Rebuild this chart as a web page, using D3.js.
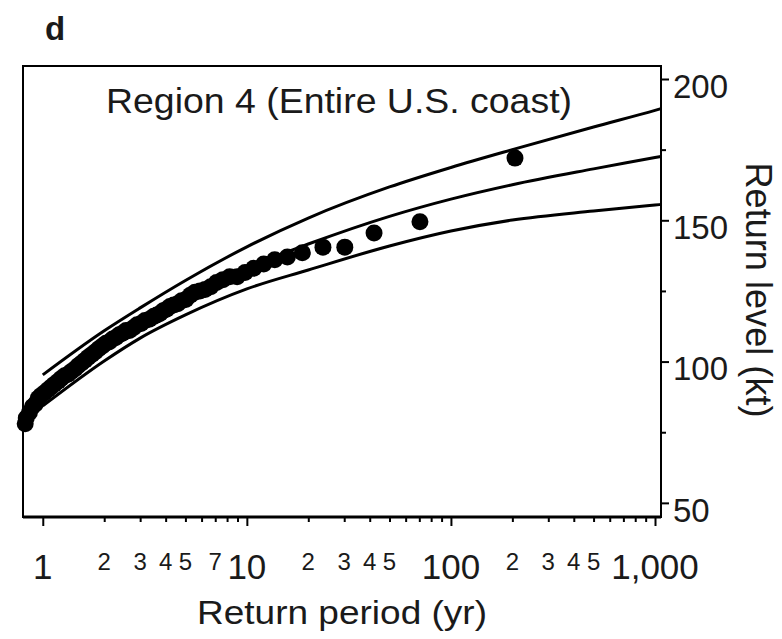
<!DOCTYPE html>
<html>
<head>
<meta charset="utf-8">
<script src="https://cdn.jsdelivr.net/npm/d3@7"></script>
<style>
	body { margin: 0; background: #fff; }
	text { font-family: "Liberation Sans", Arial, Helvetica, sans-serif; fill: #1a1a1a; }
</style>
</head>
<body>
<div id="chart"></div>
<script>

var returnPeriods = [206, 70.5, 42, 30.2, 23.6, 18.7, 15.8, 13.7, 12.1, 10.8, 9.8, 8.96, 8.24, 7.63, 7.10, 6.65, 6.24, 5.89, 5.57, 5.28,
	5.02, 4.79, 4.58, 4.38, 4.2, 4.04, 3.89, 3.75, 3.62, 3.5, 3.33, 3.17, 3.03, 2.9, 2.78, 2.66, 2.56, 2.46, 2.37, 2.28,
	2.2, 2.12, 2.04, 1.96, 1.88, 1.81, 1.74, 1.67, 1.61, 1.55, 1.49, 1.44, 1.38, 1.33, 1.28, 1.23, 1.19, 1.14, 1.10, 1.06,
	1.02, 0.98, 0.95, 0.92, 0.89, 0.86, 0.83, 0.82];
var returnLevels = [172, 149.5, 145.5, 140.5, 140.5, 138.5, 137, 136, 134.5, 133, 131.5, 130, 130, 129, 128, 126.5, 125.5, 125, 124.5, 123.5,
	122, 121.5, 120.5, 120, 119.5, 118.5, 118, 117, 116.5, 116, 115, 114.5, 113.5, 113, 112, 111, 111, 110, 109.5, 108.5,
	108, 107, 106.5, 105.5, 104.5, 103.5, 102.5, 101.5, 100.5, 99.5, 98.5, 97.5, 96.5, 95.5, 95, 94, 93, 92, 91, 90,
	89, 88, 87, 85, 84, 82, 80, 78];

// Fitted return level curve with upper / lower limits
var curvePeriods = [1, 2, 3, 5, 10, 20, 50, 100, 200, 500, 1000, 1070];
var upperLevels = [95.3, 110.9, 119, 128.7, 140.6, 150.8, 161.8, 168.7, 175, 183, 188.9, 189.5];
var fitLevels = [89.8, 105.6, 113.7, 122.6, 133.2, 141.6, 151.4, 157.5, 162.6, 168.2, 172.2, 172.6];
var lowerLevels = [84.3, 100.2, 108.3, 116.5, 125.7, 132.4, 140.9, 146.2, 150.1, 153.3, 155.4, 155.6];

// Axis ticks
var majorPeriods = [1, 10, 100, 1000];
var minorPeriods = [2, 3, 4, 5, 6, 7, 8, 9, 20, 30, 40, 50, 60, 70, 80, 90, 200, 300, 400, 500, 600, 700, 800, 900];
var minorLabels = [2, 3, 4, 5, 7, 20, 30, 40, 50, 200, 300, 400, 500];
var levelTicks = [50, 100, 150, 200];
var levelMinor = [75, 125, 175];

var width = 782, height = 639;
var plotLeft = 23, plotRight = 661, plotTop = 66, plotBottom = 517;

var svg = d3.select("#chart").append("svg")
	.attr("width", width)
	.attr("height", height);

var x = d3.scaleLog().domain([0.8, 1070]).range([plotLeft, plotRight]);
var y = d3.scaleLinear().domain([45, 204.6]).range([plotBottom, plotTop]);

// panel letter
svg.append("text")
	.attr("x", 45).attr("y", 40)
	.attr("font-size", "33px")
	.attr("font-weight", "bold")
	.text("d");

// curves
var line = d3.line()
	.x(function(d) { return x(d[0]); })
	.y(function(d) { return y(d[1]); })
	.curve(d3.curveMonotoneX);

[upperLevels, fitLevels, lowerLevels].forEach(function(levels) {
	svg.append("path")
		.datum(curvePeriods.map(function(t, i) { return [t, levels[i]]; }))
		.attr("fill", "none")
		.attr("stroke", "#000")
		.attr("stroke-width", 3)
		.attr("d", line);
});

// observed points
svg.selectAll("circle.obs")
	.data(returnPeriods.map(function(t, i) { return [t, returnLevels[i]]; }))
	.enter()
	.append("circle")
	.attr("class", "obs")
	.attr("cx", function(d) { return x(d[0]); })
	.attr("cy", function(d) { return y(d[1]); })
	.attr("r", 8.5)
	.attr("fill", "#000");

// frame
svg.append("rect")
	.attr("x", plotLeft).attr("y", plotTop)
	.attr("width", plotRight - plotLeft).attr("height", plotBottom - plotTop)
	.attr("fill", "none")
	.attr("stroke", "#000")
	.attr("stroke-width", 2);
svg.append("line")
	.attr("x1", plotLeft).attr("x2", plotRight)
	.attr("y1", plotBottom).attr("y2", plotBottom)
	.attr("stroke", "#000")
	.attr("stroke-width", 3);

// bottom axis
var gx = svg.append("g").attr("transform", "translate(0," + plotBottom + ")");
gx.append("g").call(d3.axisBottom(x).tickValues(minorPeriods).tickSize(5).tickFormat(""));
gx.append("g").call(d3.axisBottom(x).tickValues(majorPeriods).tickSize(9).tickFormat(""));
gx.selectAll(".domain").remove();
gx.selectAll("line").attr("stroke", "#000").attr("stroke-width", 2);

gx.selectAll("text.major")
	.data(majorPeriods)
	.enter()
	.append("text")
	.attr("class", "major")
	.attr("x", function(d) { return x(d); })
	.attr("y", 62)
	.attr("text-anchor", "middle")
	.attr("font-size", "35px")
	.text(d3.format(","));

gx.selectAll("text.minor")
	.data(minorLabels)
	.enter()
	.append("text")
	.attr("class", "minor")
	.attr("x", function(d) { return x(d); })
	.attr("y", 53)
	.attr("text-anchor", "middle")
	.attr("font-size", "24px")
	.text(function(d) { return String(d).charAt(0); });

svg.append("text")
	.attr("x", 342).attr("y", 624)
	.attr("text-anchor", "middle")
	.attr("font-size", "34px")
	.attr("textLength", 290)
	.attr("lengthAdjust", "spacingAndGlyphs")
	.text("Return period (yr)");

// right axis
var gy = svg.append("g").attr("transform", "translate(" + plotRight + ",0)");
gy.append("g").call(d3.axisRight(y).tickValues(levelTicks).tickSize(8).tickPadding(4));
gy.append("g").call(d3.axisRight(y).tickValues(levelMinor).tickSize(5).tickFormat(""));
gy.selectAll(".domain").remove();
gy.selectAll("line").attr("stroke", "#000").attr("stroke-width", 2);
gy.selectAll("text")
	.attr("font-family", null)
	.attr("font-size", "33px")
	.attr("fill", "#1a1a1a")
	.attr("dy", "0.55em");

svg.append("text")
	.attr("transform", "translate(746,290) rotate(90)")
	.attr("text-anchor", "middle")
	.attr("font-size", "36px")
	.attr("textLength", 255)
	.attr("lengthAdjust", "spacingAndGlyphs")
	.text("Return level (kt)");

// region title
svg.append("text")
	.attr("x", 106).attr("y", 113)
	.attr("font-size", "35px")
	.attr("textLength", 466)
	.attr("lengthAdjust", "spacingAndGlyphs")
	.text("Region 4 (Entire U.S. coast)");

</script>
</body>
</html>
